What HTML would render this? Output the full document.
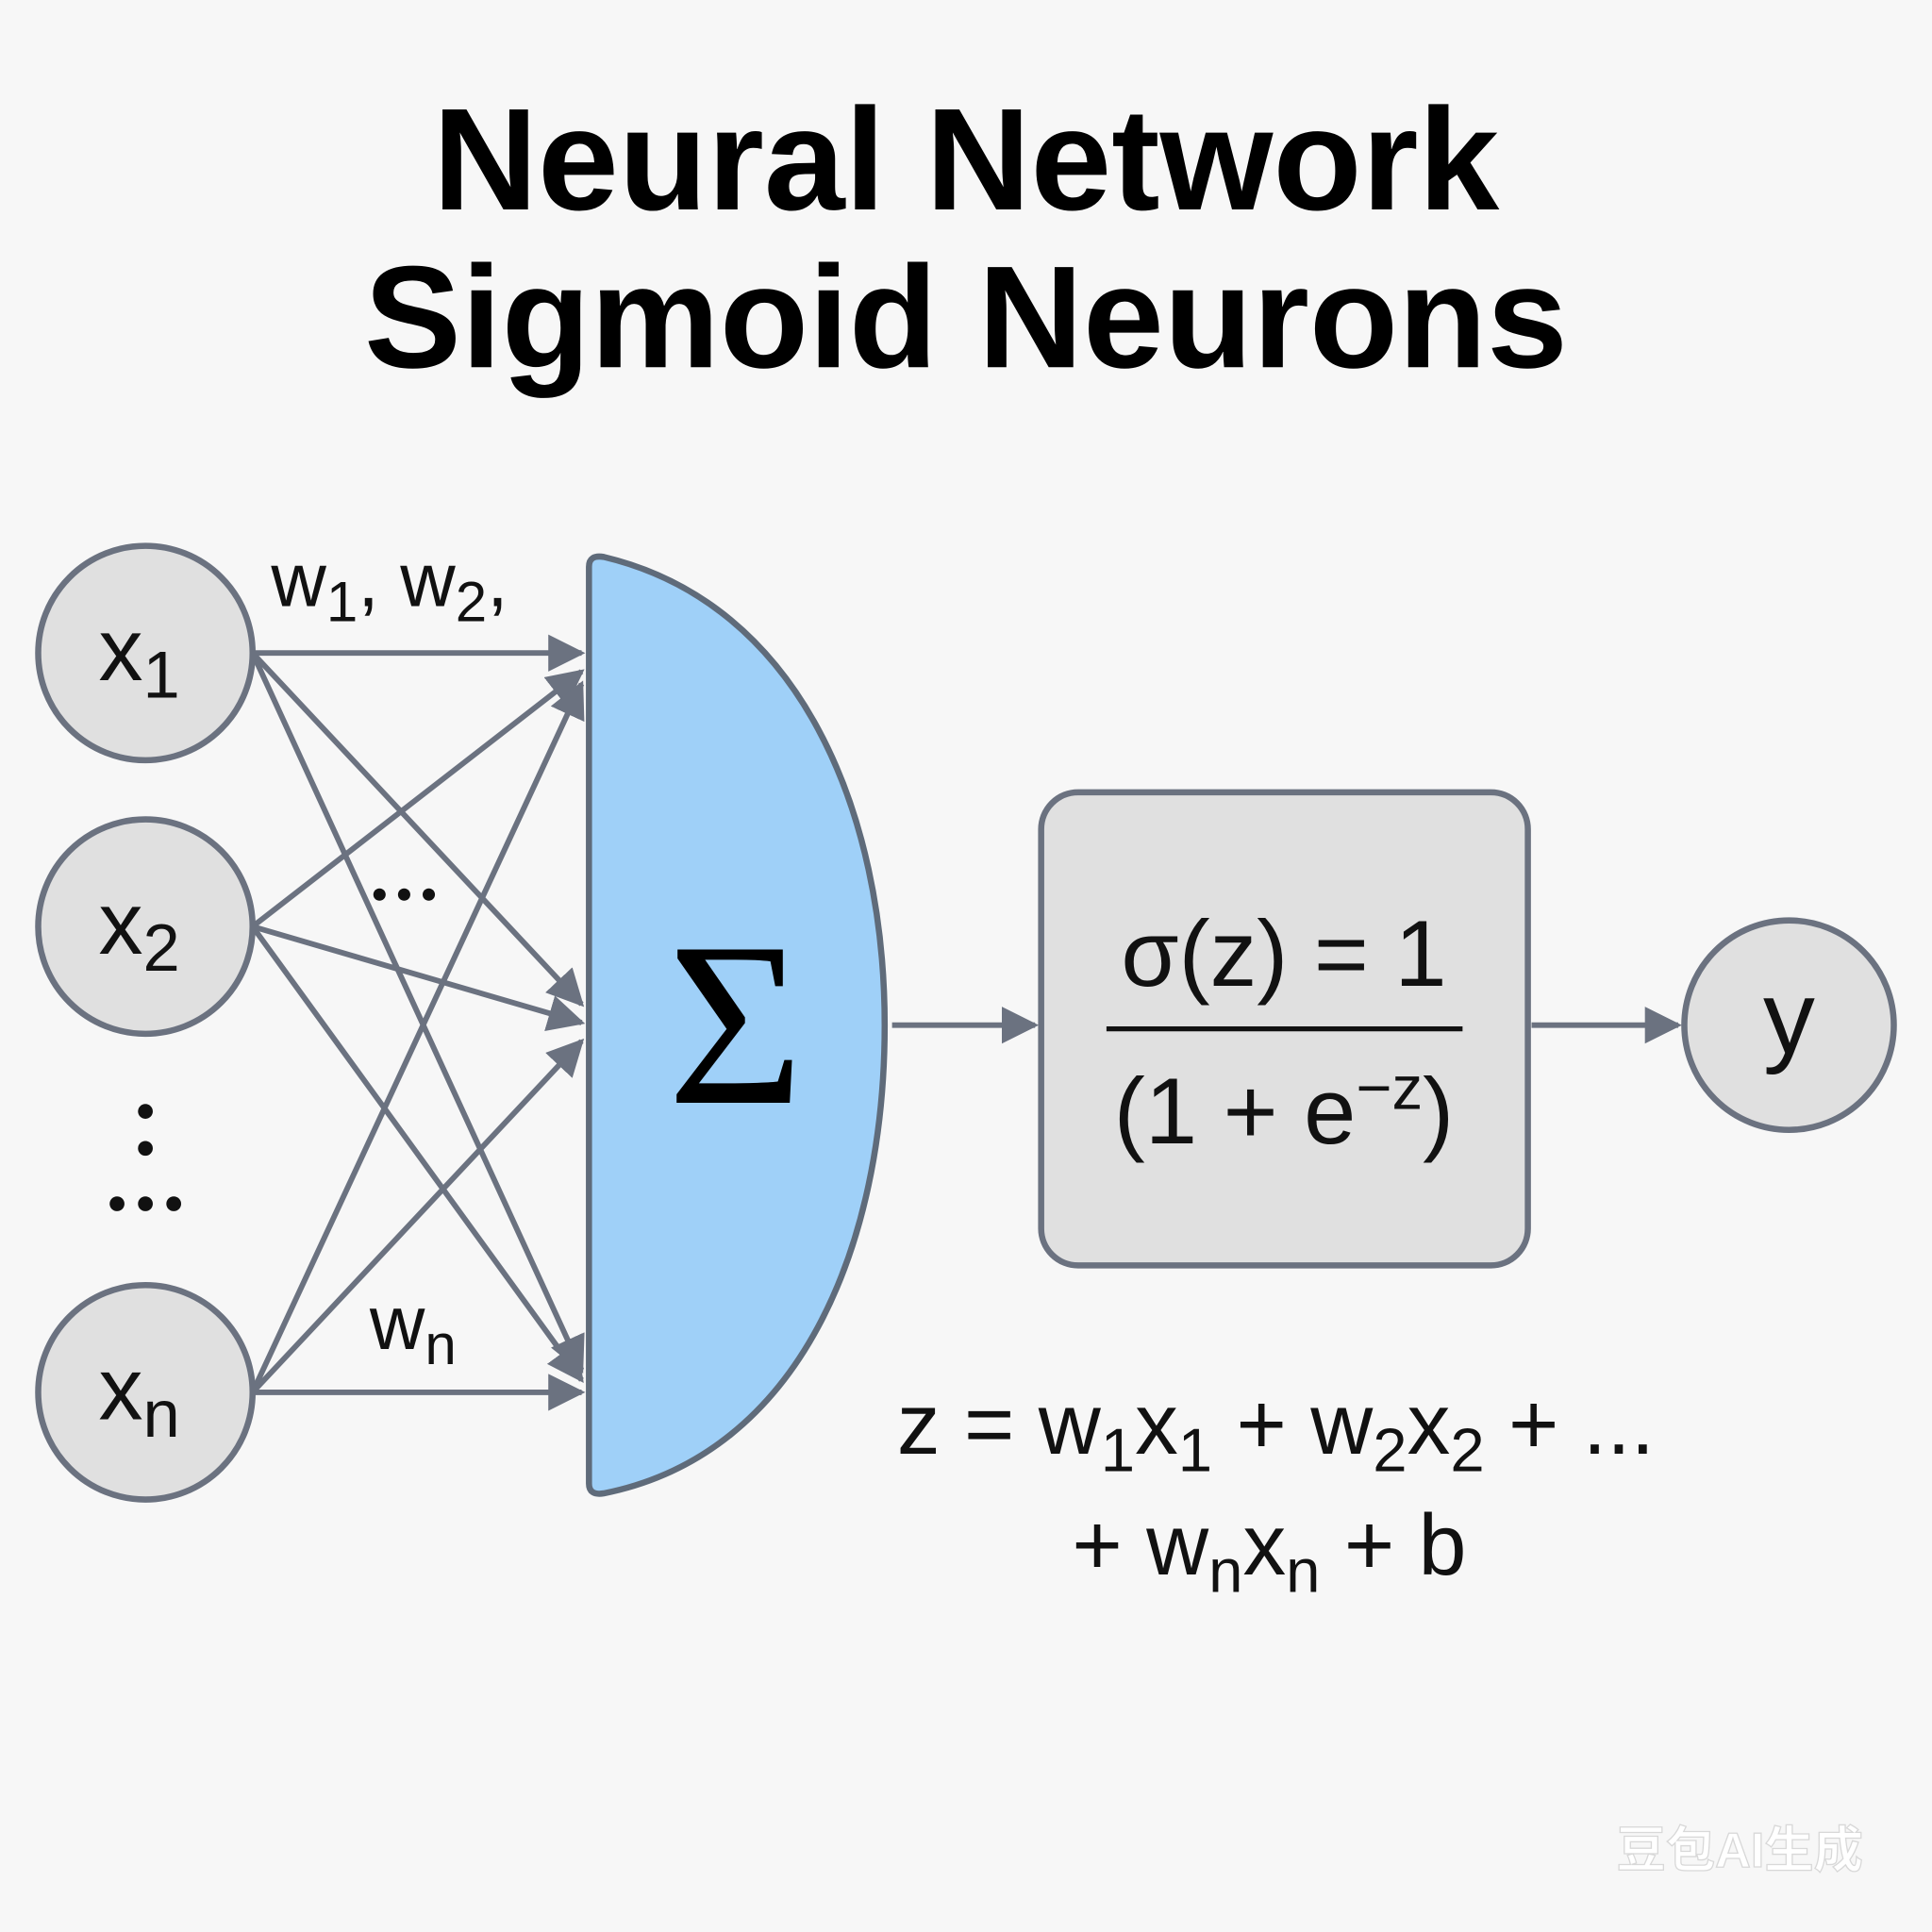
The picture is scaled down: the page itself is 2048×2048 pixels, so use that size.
<!DOCTYPE html>
<html><head><meta charset="utf-8"><style>
html,body{margin:0;padding:0;background:#f7f7f7;}
svg{display:block}
</style></head><body>
<svg width="2048" height="2048" viewBox="0 0 1568 1568" xmlns="http://www.w3.org/2000/svg">
<defs>
<marker id="ah" viewBox="0 0 10 10" refX="9" refY="5" markerWidth="30" markerHeight="30" markerUnits="userSpaceOnUse" orient="auto"><path d="M0,0 L10,5 L0,10 Z" fill="#6b7280"/></marker>
</defs>
<rect width="1568" height="1568" fill="#f7f7f7"/>
<g font-family="Liberation Sans, sans-serif" font-weight="bold" font-size="118" text-anchor="middle" fill="#000">
<text x="784" y="170">Neural Network</text>
<text x="784" y="298">Sigmoid Neurons</text>
</g>
<g stroke="#6b7280" stroke-width="4.5" fill="none" marker-end="url(#ah)">
<line x1="205" y1="530" x2="472" y2="530"/>
<line x1="205" y1="530" x2="472" y2="815"/>
<line x1="205" y1="530" x2="472" y2="1112"/>
<line x1="205" y1="752" x2="472" y2="545"/>
<line x1="205" y1="752" x2="472" y2="830"/>
<line x1="205" y1="752" x2="472" y2="1120"/>
<line x1="205" y1="1130" x2="472" y2="555"/>
<line x1="205" y1="1130" x2="472" y2="845"/>
<line x1="205" y1="1130" x2="472" y2="1130"/>
<line x1="724" y1="832" x2="840" y2="832"/>
<line x1="1243" y1="832" x2="1362" y2="832"/>
</g>
<path d="M478,460 Q478,450 490,452 C650,490 718,660 718,832 C718,1010 650,1180 490,1212 Q478,1214 478,1204 Z" fill="#9fd0f8" stroke="#5f6b7a" stroke-width="5"/>
<text x="597" y="895" font-family="Liberation Serif, serif" font-size="190" text-anchor="middle" fill="#000">Σ</text>
<g fill="#e0e0e0" stroke="#6b7280" stroke-width="5">
<circle cx="118" cy="530" r="87"/>
<circle cx="118" cy="752" r="87"/>
<circle cx="118" cy="1130" r="87"/>
<circle cx="1452" cy="832" r="85"/>
<rect x="845" y="643" width="395" height="384" rx="30"/>
</g>
<g font-family="Liberation Sans, sans-serif" fill="#111" font-size="72">
<text x="80" y="552">x<tspan font-size="54" dy="14">1</tspan></text>
<text x="80" y="774">x<tspan font-size="54" dy="14">2</tspan></text>
<text x="80" y="1152">x<tspan font-size="54" dy="14">n</tspan></text>
<text x="1452" y="855" text-anchor="middle" font-size="84">y</text>
<text x="220" y="492" font-size="62">w<tspan font-size="46" dy="12">1</tspan><tspan dy="-12">, w</tspan><tspan font-size="46" dy="12">2</tspan><tspan dy="-12">,</tspan></text>
<text x="300" y="1095" font-size="62">w<tspan font-size="46" dy="12">n</tspan></text>
<text x="1042" y="800" text-anchor="middle" font-size="76">σ(z) = 1</text>
<text x="1042" y="928" text-anchor="middle" font-size="76">(1 + e<tspan font-size="50" dy="-28">−z</tspan><tspan dy="28">)</tspan></text>
<text x="728" y="1180" font-size="70">z = w<tspan font-size="50" dy="14">1</tspan><tspan dy="-14">x</tspan><tspan font-size="50" dy="14">1</tspan><tspan dy="-14"> + w</tspan><tspan font-size="50" dy="14">2</tspan><tspan dy="-14">x</tspan><tspan font-size="50" dy="14">2</tspan><tspan dy="-14"> + ...</tspan></text>
<text x="870" y="1278" font-size="70">+ w<tspan font-size="50" dy="14">n</tspan><tspan dy="-14">x</tspan><tspan font-size="50" dy="14">n</tspan><tspan dy="-14"> + b</tspan></text>
</g>
<line x1="898" y1="835" x2="1187" y2="835" stroke="#111" stroke-width="4"/>
<g fill="#111">
<circle cx="308" cy="726" r="5"/><circle cx="328" cy="726" r="5"/><circle cx="348" cy="726" r="5"/>
<circle cx="118" cy="902" r="6"/><circle cx="118" cy="932" r="6"/>
<circle cx="95" cy="977" r="6"/><circle cx="118" cy="977" r="6"/><circle cx="141" cy="977" r="6"/>
</g>
<text x="1312" y="1515" font-family="Liberation Sans, Noto Sans CJK SC, sans-serif" font-size="40" font-weight="bold" fill="#ffffff" stroke="#d8d8d8" stroke-width="1">豆包AI生成</text>
</svg>
</body></html>
